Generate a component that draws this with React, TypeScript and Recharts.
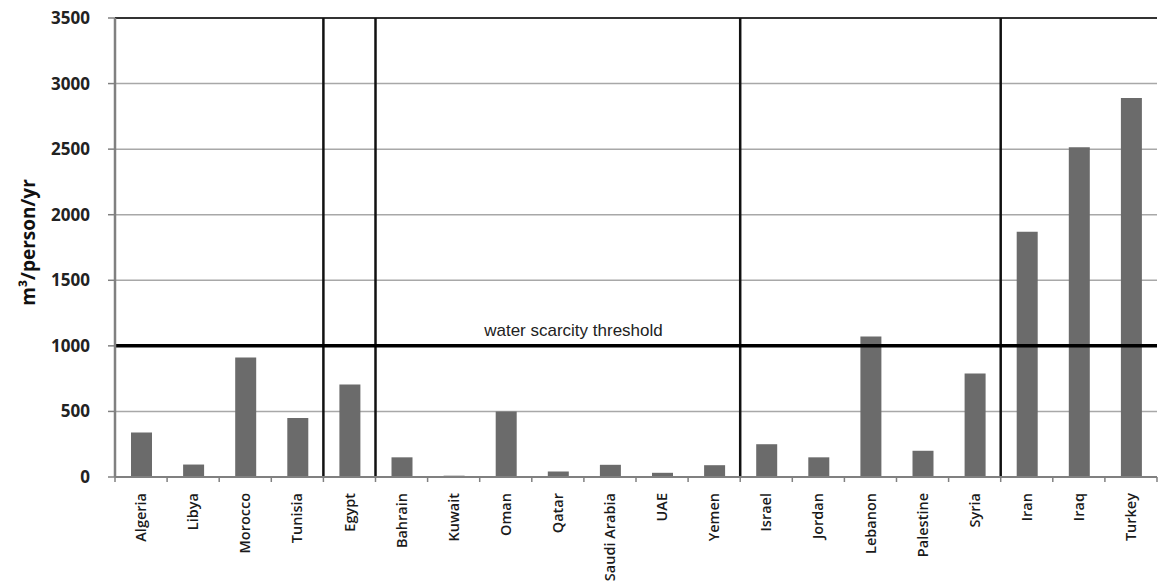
import {
  BarChart, Bar, XAxis, YAxis, CartesianGrid, ReferenceLine,
} from 'recharts'

const countries = [
  'Algeria', 'Libya', 'Morocco', 'Tunisia',
  'Egypt',
  'Bahrain', 'Kuwait', 'Oman', 'Qatar', 'Saudi Arabia', 'UAE', 'Yemen',
  'Israel', 'Jordan', 'Lebanon', 'Palestine', 'Syria',
  'Iran', 'Iraq', 'Turkey',
]
const waterPerCapita = [
  340, 95, 912, 450,
  705,
  150, 10, 500, 42, 93, 32, 90,
  250, 150, 1072, 200, 790,
  1870, 2515, 2890,
]
// first country of each region after the first one
const regionStarts = ['Egypt', 'Bahrain', 'Israel', 'Iran']
const yTicks = [0, 500, 1000, 1500, 2000, 2500, 3000, 3500]
const THRESHOLD = 1000

const W = 1159
const H = 586
const LEFT = 115
const RIGHT = 2
const BAND = (W - LEFT - RIGHT) / countries.length

const data = countries.map((name, i) => ({ name, value: waterPerCapita[i] }))

function CountryTick(props: any) {
  const { x, y, payload, index } = props
  const isLast = index === countries.length - 1
  return (
    <g>
      <line x1={x - BAND / 2} x2={x - BAND / 2} y1={y - 8} y2={y - 3} stroke="#808080" strokeWidth={1.5} />
      {isLast && (
        <line x1={x + BAND / 2} x2={x + BAND / 2} y1={y - 8} y2={y - 3} stroke="#808080" strokeWidth={1.5} />
      )}
      <text
        x={x}
        y={y + 8}
        transform={`rotate(-90, ${x}, ${y + 8})`}
        textAnchor="end"
        dy="0.35em"
        fontSize={14.5}
        fontWeight={600}
        fontFamily="'Open Sans', sans-serif"
        fill="#1a1a1a"
      >
        {payload.value}
      </text>
    </g>
  )
}

function ThresholdLabel(props: any) {
  const { viewBox } = props
  if (!viewBox) return null
  return (
    <text
      x={viewBox.x + viewBox.width * 0.44}
      y={viewBox.y - 10}
      textAnchor="middle"
      fontSize={17}
      fontFamily="'Liberation Sans', Arial, sans-serif"
      fill="#222"
    >
      water scarcity threshold
    </text>
  )
}

export default function App() {
  return (
    <div style={{ position: 'absolute', left: 0, top: 0, width: W, height: H, background: '#fff' }}>
      <BarChart width={W} height={H} data={data} margin={{ top: 18, right: RIGHT, left: 0, bottom: 0 }}>
        <CartesianGrid horizontal vertical={false} stroke="#a8a8a8" strokeWidth={1.5} />
        <XAxis
          dataKey="name"
          interval={0}
          height={109}
          tickLine={false}
          axisLine={{ stroke: '#808080', strokeWidth: 2 }}
          tick={<CountryTick />}
        />
        <YAxis
          width={LEFT}
          domain={[0, 3500]}
          ticks={yTicks}
          interval={0}
          tickSize={7}
          tickMargin={18}
          tickLine={{ stroke: '#808080', strokeWidth: 1.5 }}
          axisLine={{ stroke: '#808080', strokeWidth: 2.5 }}
          tick={{ fill: '#222', fontSize: 17, fontWeight: 700, fontFamily: "'Open Sans', sans-serif" }}
          label={{
            value: 'm³/person/yr',
            angle: -90,
            position: 'insideLeft',
            offset: 28,
            dy: -5,
            style: { fill: '#111', fontSize: 19, fontWeight: 700, fontFamily: "'Open Sans', sans-serif", textAnchor: 'middle' },
          }}
        />
        <ReferenceLine y={3500} stroke="#333" strokeWidth={2} />
        {regionStarts.map(c => (
          <ReferenceLine key={c} x={c} position="start" stroke="#111" strokeWidth={2.5} />
        ))}
        <ReferenceLine y={THRESHOLD} stroke="#000" strokeWidth={3.5} label={<ThresholdLabel />} />
        <Bar dataKey="value" fill="#6b6b6b" barSize={21} isAnimationActive={false} />
      </BarChart>
    </div>
  )
}
